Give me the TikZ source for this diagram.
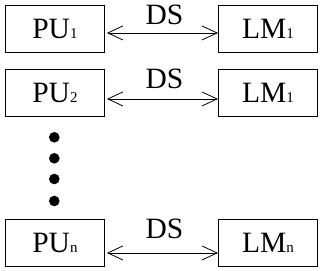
\documentclass[tikz,border=0pt]{standalone}
\usepackage{fontspec}
\setmainfont{Liberation Serif}
\usetikzlibrary{arrows.meta}

\newcommand{\lowidx}[1]{{\fontsize{15}{15}\selectfont #1}}

\begin{document}
\begin{tikzpicture}[x=1pt, y=-1pt,
    box/.style={draw, line width=0.9pt, minimum width=99pt, minimum height=47pt,
        inner sep=0pt, anchor=north west, font=\fontsize{29.5}{29.5}\selectfont},
    link/.style={line width=0.9pt,
        {Straight Barb[length=15pt,width=14pt,line width=0.8pt]}-{Straight Barb[length=15pt,width=14pt,line width=0.8pt]},
        shorten <=2pt},
    label/.style={anchor=base, inner sep=0pt, font=\fontsize{29.5}{29.5}\selectfont}]
    \useasboundingbox (0,0) rectangle (322,271);

    \foreach \r/\p/\m/\y/\s in {1/1/1/5/-4, 2/2/1/69/-6, n/n/n/219/-10} {
        \node[box] (pu\r) at (5,\y) {PU\lowidx{\p}};
        \node[box] (lm\r) at (218,\y) {LM\lowidx{\m}};
        \draw[link] ([yshift=\s pt]pu\r.east) -- ([yshift=\s pt]lm\r.west);
        \node[label] (ds\r) at (164.5,\y+19.5) {DS};
    }

    \foreach \d in {137.3,158.3,179,201} {
        \fill (54.3,\d) circle[radius=5.3];
    }
\end{tikzpicture}
\end{document}
